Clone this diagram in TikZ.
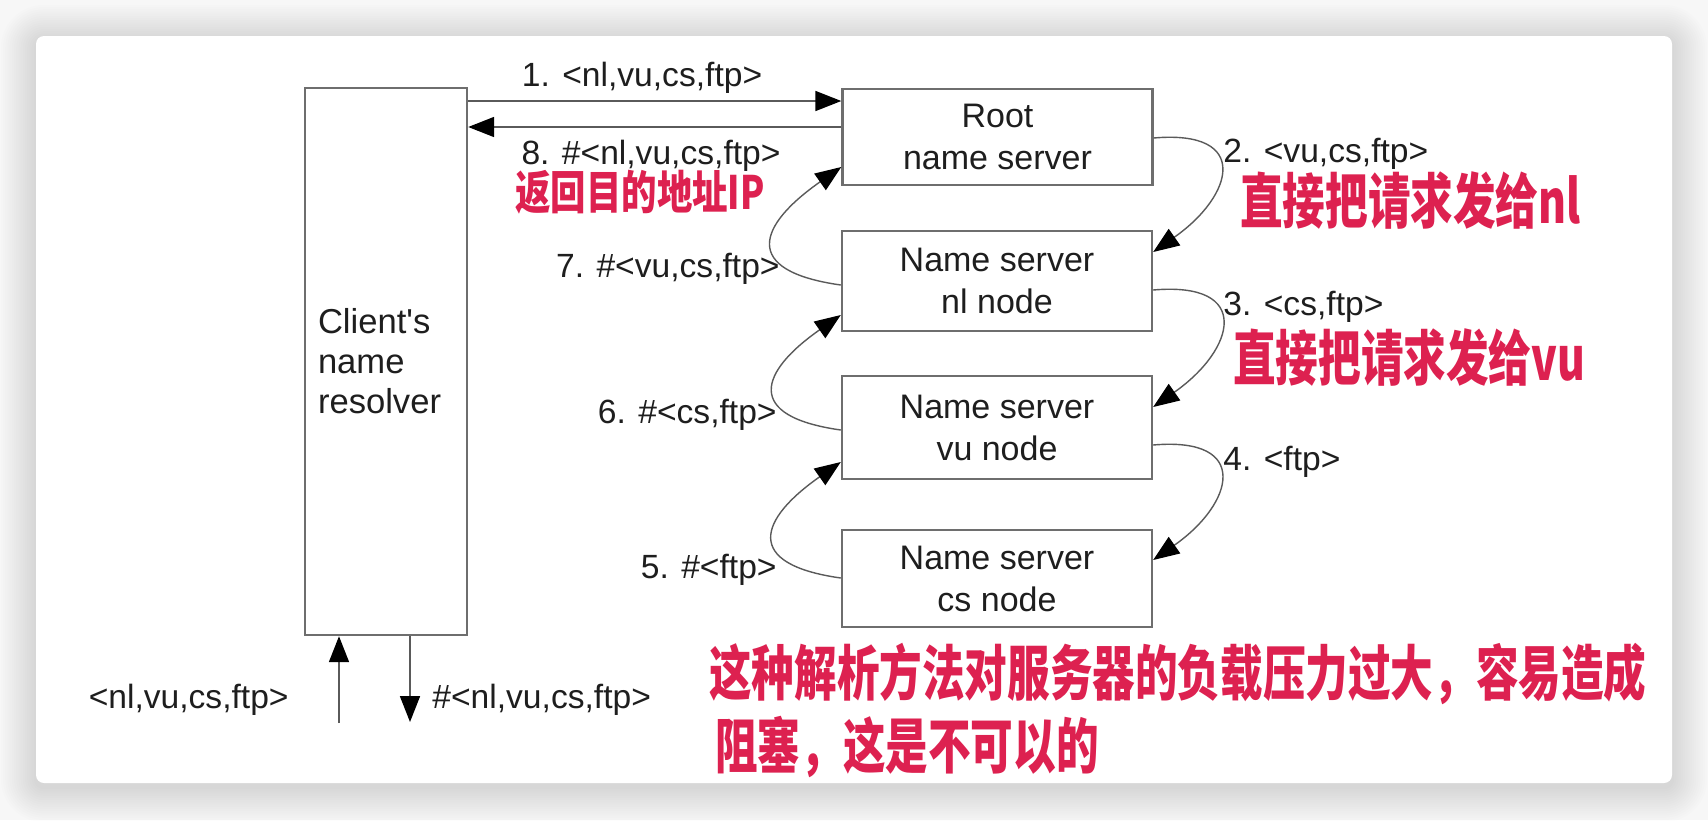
\documentclass[tikz,border=0pt]{standalone}
\usepackage{fontspec}
\setmainfont{Liberation Sans}
\newfontfamily\rawsans{Liberation Sans}
\newfontfamily\cjk{Noto Sans CJK SC}
\usetikzlibrary{arrows.meta}
\definecolor{hand}{HTML}{DD2150}
\definecolor{boxline}{HTML}{6E6E6E}
\definecolor{conn}{HTML}{5A5A5A}
\definecolor{txt}{HTML}{1E1E1E}
\definecolor{bgcol}{HTML}{F7F7F7}
\begin{document}
\begin{tikzpicture}[x=0.5pt,y=0.5pt,
  box/.style={draw=boxline, line width=1.2pt, fill=white, minimum width=155pt,
    align=center, inner sep=0pt, text=txt, font=\fontsize{17}{21}\selectfont},
  lbl/.style={font=\fontsize{16.8}{20}\selectfont, inner sep=0pt, text=txt},
  hw/.style={text=hand, inner sep=0pt, font=\cjk\bfseries\fontsize{30}{36}\selectfont, xscale=0.71},
  tip/.style={-{Triangle[length=13pt,width=10pt,color=black]}},
  arr/.style={draw=conn, line width=0.9pt, tip},
  curv/.style={draw=conn, line width=0.7pt, tip, looseness=2.2},
]
\useasboundingbox (0,0) rectangle (1708,-820);
\fill[bgcol] (0,0) rectangle (1708,-820);
\foreach \i in {1,...,16}{
  \pgfmathsetmacro\e{\i*2.2}
  \pgfmathsetmacro\r{4+\e*0.5}
  \fill[black,opacity=0.009,rounded corners=\r pt] (36-\e,-40+\e) rectangle (1672+\e,-787-\e);
}
\fill[white,rounded corners=4pt] (36,-36) rectangle (1672,-783);

% boxes
\node[box, minimum width=81pt, minimum height=273.5pt, text width=68pt, align=left,
  font=\fontsize{17.3}{20}\selectfont] (client) at (386,-361.5) {Client{\rawsans'}s\\name\\resolver};
\node[box, minimum height=48pt] (root) at (997.5,-137) {Root\\name server};
\node[box, minimum height=50pt] (nl) at (997,-281) {Name server\\nl node};
\node[box, minimum height=51.5pt] (vu) at (997,-427.5) {Name server\\vu node};
\node[box, minimum height=48.5pt] (cs) at (997,-578.5) {Name server\\cs node};

% straight arrows
\draw[arr] (client.east |- 0,-101) -- (root.west |- 0,-101);
\draw[arr] (root.west |- 0,-127) -- (client.east |- 0,-127);

% right curves (requests)
\draw[curv] (root.east |- 0,-138) to[out=5,in=35] (nl.east |- 0,-252);
\draw[curv] (nl.east |- 0,-290) to[out=5,in=35] (vu.east |- 0,-407);
\draw[curv] (vu.east |- 0,-445) to[out=5,in=35] (cs.east |- 0,-560);

% left curves (replies)
\draw[curv] (nl.west |- 0,-285) to[out=172,in=215] (root.west |- 0,-167);
\draw[curv] (vu.west |- 0,-430) to[out=172,in=215] (nl.west |- 0,-315);
\draw[curv] (cs.west |- 0,-578) to[out=172,in=215] (vu.west |- 0,-462);

% client in/out
\coordinate (inA) at (339,-723);
\coordinate (outB) at (410,-722);
\draw[arr] (inA) -- (client.south -| inA);
\draw[arr] (client.south -| outB) -- (outB);

% labels
\node[lbl] (l1) at (642,-78) {1. <nl,vu,cs,ftp>};
\node[lbl] (l8) at (651,-156) {8. \#<nl,vu,cs,ftp>};
\node[lbl, anchor=east] (l7) at (780,-269) {7. \#<vu,cs,ftp>};
\node[lbl, anchor=east] (l6) at (777,-415) {6. \#<cs,ftp>};
\node[lbl, anchor=east] (l5) at (777,-570) {5. \#<ftp>};
\node[lbl, anchor=west] (l2) at (1223,-154) {2. <vu,cs,ftp>};
\node[lbl, anchor=west] (l3) at (1223,-307) {3. <cs,ftp>};
\node[lbl, anchor=west] (l4) at (1223,-462) {4. <ftp>};
\node[lbl, anchor=east] (lin) at (289,-700) {<nl,vu,cs,ftp>};
\node[lbl, anchor=west] (lout) at (432,-700) {\#<nl,vu,cs,ftp>};

% handwritten notes
\node[hw, font=\cjk\bfseries\fontsize{23}{28}\selectfont, xscale=0.77/0.71] (n8) at (640,-192) {返回目的地址IP};
\node[hw, anchor=west] (n2) at (1240,-200) {直接把请求发给nl};
\node[hw, anchor=west] (n3) at (1233,-357) {直接把请求发给vu};
\node[hw, anchor=west] (n9) at (709,-674) {这种解析方法对服务器的负载压力过大，容易造成};
\node[hw, anchor=west] (n10) at (715,-747) {阻塞，这是不可以的};
\end{tikzpicture}
\end{document}
